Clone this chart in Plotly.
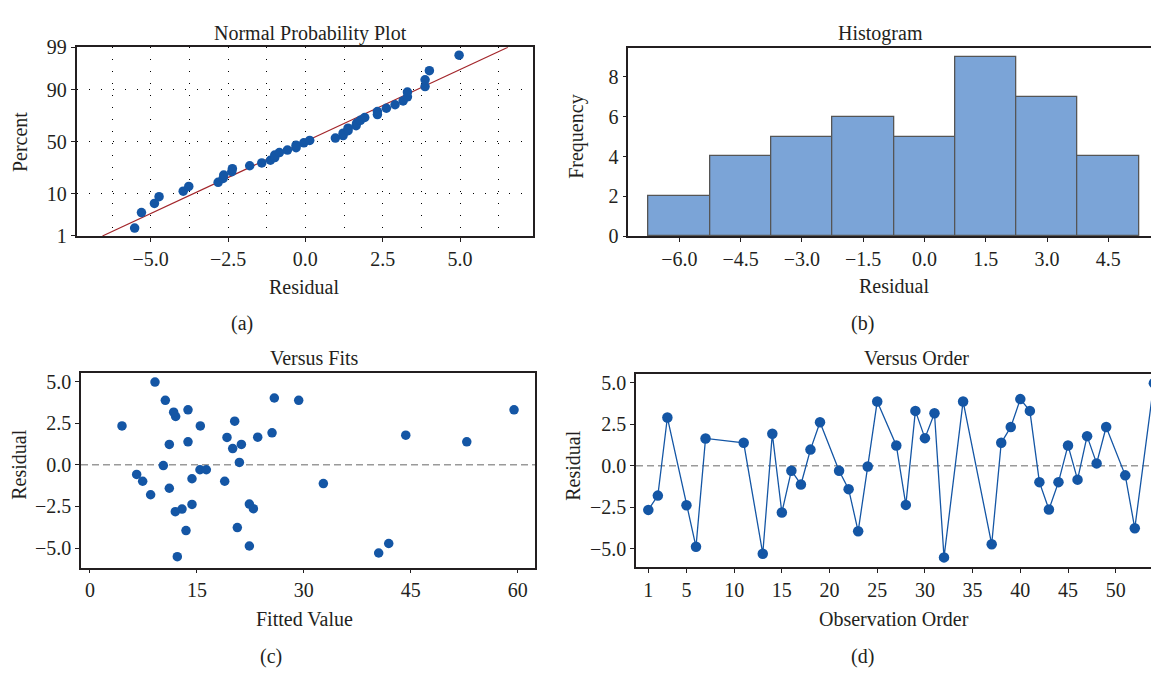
import plotly.graph_objects as go
from statistics import NormalDist

# ---------------- data ----------------
obs_order = [1, 2, 3, 5, 6, 7, 11, 13, 14, 15, 16, 17, 18, 19, 21, 22, 23, 24, 25, 27, 28,
             29, 30, 31, 32, 34, 37, 38, 39, 40, 41, 42, 43, 44, 45, 46, 47, 48, 49, 51, 52, 54]
residual = [-2.66, -1.80, 2.90, -2.38, -4.88, 1.64, 1.38, -5.30, 1.92, -2.82, -0.30, -1.13,
            0.97, 2.62, -0.30, -1.41, -3.95, -0.05, 3.87, 1.22, -2.36, 3.30, 1.66, 3.16,
            -5.52, 3.87, -4.73, 1.38, 2.33, 4.01, 3.30, -0.99, -2.64, -0.99, 1.22, -0.84,
            1.78, 0.14, 2.33, -0.58, -3.77, 4.97]
fitted = [12.91, 8.51, 12.02, 14.31, 22.36, 19.22, 13.75, 40.5, 25.54, 11.97, 15.43, 32.74,
          20.02, 20.3, 16.32, 11.13, 13.47, 10.29, 29.28, 11.13, 22.36, 13.75, 23.53, 11.74,
          12.25, 10.57, 41.91, 52.86, 4.49, 25.86, 59.49, 7.39, 22.92, 18.9, 21.24, 14.31,
          44.3, 20.96, 15.48, 6.55, 20.67, 9.12]

# fitted normal line in the probability plot (end points)
fit_line_residual = [-6.56, 6.55]
fit_line_percent = [1, 99]

prob_ticks = [1, 10, 50, 90, 99]
hist_ticks = [-6.0, -4.5, -3.0, -1.5, 0.0, 1.5, 3.0, 4.5]
fits_ticks = [0, 15, 30, 45, 60]
order_ticks = [1, 5, 10, 15, 20, 25, 30, 35, 40, 45, 50]
resid_ticks = [-5.0, -2.5, 0.0, 2.5, 5.0]

# ---------------- probability-scale helpers ----------------
nd = NormalDist()


def zq(p):
    return nd.inv_cdf(p / 100.0)


n = len(residual)
sorted_res = sorted(residual)
# median-rank plotting positions (Benard), as used by the normal probability plot
plot_pct = [100.0 * (i + 1 - 0.3) / (n + 0.4) for i in range(n)]

W, H = 1151, 679


def fx(px):
    return px / W


def fy(py):
    return 1 - py / H


FONT = "Liberation Serif"
TXT = "#231f20"
BLUE = "#1456a5"
AX = "#231f20"

fig = go.Figure()

# (a) normal probability plot
fig.add_trace(go.Scatter(x=fit_line_residual, y=[zq(p) for p in fit_line_percent],
                         mode="lines", line=dict(color="#a3262b", width=1.2),
                         xaxis="x", yaxis="y", hoverinfo="skip"))
fig.add_trace(go.Scatter(x=sorted_res, y=[zq(p) for p in plot_pct], mode="markers",
                         marker=dict(color=BLUE, size=9.5), xaxis="x", yaxis="y"))

# (b) histogram
fig.add_trace(go.Histogram(x=residual, xbins=dict(start=-6.75, end=5.25, size=1.5),
                           marker=dict(color="#7ba4d7", line=dict(color="#555555", width=1.3)),
                           xaxis="x2", yaxis="y2"))

# (c) versus fits
fig.add_trace(go.Scatter(x=fitted, y=residual, mode="markers",
                         marker=dict(color=BLUE, size=9.5), xaxis="x3", yaxis="y3"))

# (d) versus order
fig.add_trace(go.Scatter(x=obs_order, y=residual, mode="lines+markers",
                         line=dict(color=BLUE, width=1.3),
                         marker=dict(color=BLUE, size=10.5), xaxis="x4", yaxis="y4"))

tickfont = dict(family=FONT, size=20, color=TXT)
dots = "1px,11px"
common = dict(showline=True, linecolor=AX, linewidth=1.5, ticks="outside", ticklen=4,
              tickcolor=AX, tickfont=tickfont, zeroline=False, fixedrange=True)

fig.update_layout(
    width=W, height=H, margin=dict(l=0, r=0, t=0, b=0),
    paper_bgcolor="white", plot_bgcolor="white", showlegend=False,
    font=dict(family=FONT, color=TXT),
    xaxis=dict(domain=[fx(76.5), fx(533)], anchor="y", range=[-7.40, 7.36],
               tickmode="array", tickvals=resid_ticks, tickformat=".1f", mirror=True,
               showgrid=True, gridcolor="black", gridwidth=1, griddash=dots,
               minor=dict(tick0=0, dtick=1.25, showgrid=True, gridcolor="black",
                          gridwidth=1, griddash=dots, ticks=""),
               **common),
    yaxis=dict(domain=[fy(232.5), fy(37.5)], anchor="x", range=[zq(1), zq(99)],
               tickmode="array", tickvals=[zq(p) for p in prob_ticks],
               ticktext=[str(p) for p in prob_ticks], mirror=True,
               showgrid=True, gridcolor="black", gridwidth=1, griddash=dots, **common),
    xaxis2=dict(domain=[fx(628.3), 1.0], anchor="y2", range=[-7.25, 5.545],
                tickmode="array", tickvals=hist_ticks, tickformat=".1f", mirror=True,
                showgrid=False, **common),
    yaxis2=dict(domain=[fy(232.7), fy(38.3)], anchor="x2", range=[0, 9.45],
                tickmode="array", tickvals=[0, 2, 4, 6, 8], showgrid=False, **common),
    xaxis3=dict(domain=[fx(81), fx(535)], anchor="y3", range=[-1.26, 62.43],
                tickmode="array", tickvals=fits_ticks, mirror=True, showgrid=False, **common),
    yaxis3=dict(domain=[fy(575.3), fy(374.5)], anchor="x3", range=[-6.18, 5.49],
                tickmode="array", tickvals=resid_ticks, tickformat=".1f", mirror=True,
                showgrid=False, **common),
    xaxis4=dict(domain=[fx(636), 1.0], anchor="y4", range=[-0.29, 53.70],
                tickmode="array", tickvals=order_ticks, mirror=True, showgrid=False, **common),
    yaxis4=dict(domain=[fy(575), fy(375)], anchor="x4", range=[-6.12, 5.53],
                tickmode="array", tickvals=resid_ticks, tickformat=".1f",
                showgrid=False, **common),
)

# dashed zero reference lines
for xr, yr in (("x3", "y3"), ("x4", "y4")):
    fig.add_shape(type="line", xref=f"{xr} domain", yref=yr, x0=0, x1=1, y0=0, y1=0,
                  line=dict(color="#9a9a9a", width=1.5, dash="7px,4px"), layer="below")

# texts
labels = [
    ("Normal Probability Plot", 310, 23, 0),
    ("Residual", 304, 285, 0),
    ("Percent", 19.5, 136, -90),
    ("(a)", 242, 323, 0),
    ("Histogram", 880, 23, 0),
    ("Residual", 894, 284, 0),
    ("Frequency", 577, 130, -90),
    ("(b)", 862, 323, 0),
    ("Versus Fits", 314, 359, 0),
    ("Fitted Value", 304, 628, 0),
    ("Residual", 19, 469, -90),
    ("(c)", 271, 667, 0),
    ("Versus Order", 916, 359, 0),
    ("Observation Order", 894, 628, 0),
    ("Residual", 573, 470, -90),
    ("(d)", 862, 667, 0),
]
for text, px, py, ang in labels:
    fig.add_annotation(text=text, x=fx(px), y=fy(py), xref="paper", yref="paper",
                       xanchor="center", yanchor="middle", showarrow=False, textangle=ang,
                       font=dict(family=FONT, size=20, color=TXT))

fig.write_html("out.html", config={"displayModeBar": False},
               post_script="document.body.style.margin='0px';"
                           "document.body.style.overflow='hidden';")
